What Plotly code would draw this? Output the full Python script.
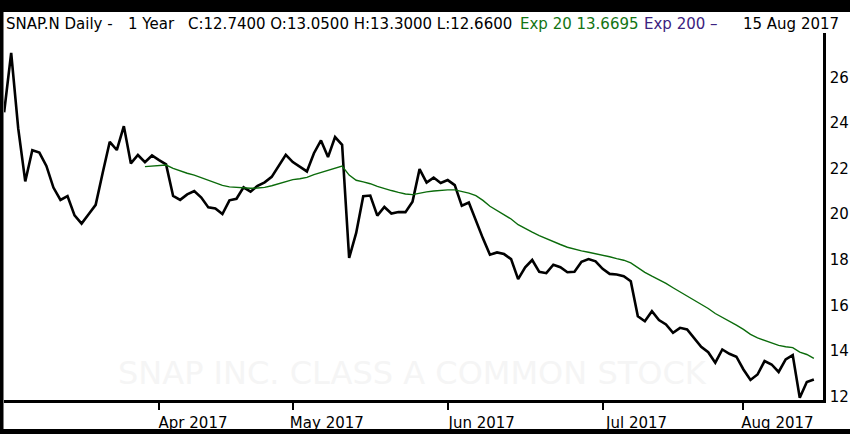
import pandas as pd
import plotly.graph_objects as go

# ---- data ----
holidays = ["2017-04-14", "2017-05-29", "2017-07-04"]
dates = [d.strftime("%Y-%m-%d") for d in pd.bdate_range("2017-03-02", "2017-08-15")
         if d.strftime("%Y-%m-%d") not in holidays]

close = [24.48, 27.09, 23.77, 21.44, 22.81, 22.71, 22.12, 21.17, 20.63, 20.80,
         19.95, 19.59, 20.00, 20.41, 21.82, 23.18, 22.82, 23.87, 22.23, 22.60,
         22.29, 22.58, 22.38, 22.19, 20.80, 20.63, 20.87, 21.02, 20.73, 20.30,
         20.25, 20.01, 20.61, 20.68, 21.18, 20.99, 21.25, 21.40, 21.64, 22.10,
         22.61, 22.29, 22.07, 21.88, 22.68, 23.24, 22.51, 23.39, 23.05, 18.08,
         19.18, 20.79, 20.82, 19.94, 20.32, 20.03, 20.10, 20.09, 20.55, 21.98,
         21.39, 21.61, 21.37, 21.50, 21.28, 20.37, 20.51, 19.71, 18.94, 18.22,
         18.32, 18.25, 18.03, 17.15, 17.67, 17.99, 17.47, 17.41, 17.78, 17.67,
         17.45, 17.47, 17.91, 18.03, 17.93, 17.60, 17.38, 17.35, 17.28, 17.06,
         15.52, 15.30, 15.74, 15.35, 15.16, 14.79, 15.01, 14.94, 14.57, 14.18,
         13.94, 13.48, 14.06, 13.87, 13.74, 13.18, 12.72, 12.96, 13.55, 13.40,
         13.07, 13.62, 13.81, 11.94, 12.63, 12.74]

ema20_start = 20
ema20 = [22.09, 22.12, 22.15, 22.16, 22.01, 21.90, 21.80, 21.72, 21.60, 21.49,
         21.37, 21.27, 21.20, 21.17, 21.15, 21.14, 21.15, 21.18, 21.25, 21.34,
         21.44, 21.52, 21.56, 21.62, 21.74, 21.84, 21.93, 22.02, 22.12, 21.72,
         21.49, 21.42, 21.34, 21.22, 21.12, 21.04, 20.96, 20.89, 20.86, 20.93,
         20.98, 21.02, 21.05, 21.07, 21.07, 21.00, 20.93, 20.82, 20.61, 20.35,
         20.16, 19.97, 19.79, 19.54, 19.36, 19.21, 19.06, 18.92, 18.79, 18.67,
         18.55, 18.46, 18.39, 18.33, 18.27, 18.20, 18.13, 18.05, 17.98, 17.86,
         17.64, 17.45, 17.28, 17.13, 16.96, 16.77, 16.59, 16.43, 16.25, 16.07,
         15.86, 15.64, 15.48, 15.30, 15.13, 14.94, 14.72, 14.57, 14.47, 14.36,
         14.24, 14.18, 14.14, 13.94, 13.84, 13.67]

x_tickvals = ["2017-04-03", "2017-05-01", "2017-06-01", "2017-07-03", "2017-08-01"]
x_ticktext = ["Apr 2017", "May 2017", "Jun 2017", "Jul 2017", "Aug 2017"]
y_tickvals = [12, 14, 16, 18, 20, 22, 24, 26]

# ---- figure ----
W, H = 850, 434
ML, MR, MT, MB = 4, 27, 33, 34
PW, PH = W - ML - MR, H - MT - MB
FONT = "DejaVu Sans"

def px_x(px):
    return (px - ML) / PW

def px_y(py):
    return (H - MB - py) / PH

fig = go.Figure()
fig.add_trace(go.Scatter(x=dates, y=close, mode="lines",
                         line=dict(color="black", width=2.6), hoverinfo="skip"))
fig.add_trace(go.Scatter(x=dates[ema20_start:], y=ema20, mode="lines",
                         line=dict(color="#0b6b0b", width=1.4), hoverinfo="skip"))

fig.update_layout(
    width=W, height=H,
    margin=dict(l=ML, r=MR, t=MT, b=MB, pad=0),
    paper_bgcolor="white", plot_bgcolor="white",
    showlegend=False,
    font=dict(family=FONT, size=15, color="black"),
    xaxis=dict(type="category", categoryorder="array", categoryarray=dates,
               range=[-0.02, 116.3], tickvals=x_tickvals, ticktext=x_ticktext,
               showgrid=False, zeroline=False, showline=True, linecolor="black",
               linewidth=2.5, ticks="outside", ticklen=7, tickwidth=2,
               tickcolor="black", ticklabelshift=34, ticklabelstandoff=0,
               tickfont=dict(family=FONT, size=15, color="black"),
               automargin=False, fixedrange=True),
    yaxis=dict(side="right", range=[11.84, 27.96], tickvals=y_tickvals,
               showgrid=False, zeroline=False, showline=True, linecolor="black",
               linewidth=2.7, ticks="", ticklabelstandoff=1,
               tickfont=dict(family=FONT, size=15, color="black"),
               automargin=False, fixedrange=True),
)

# watermark
fig.add_annotation(text="SNAP INC. CLASS A COMMON STOCK", xref="paper", yref="paper",
                   x=px_x(412), y=px_y(373), xanchor="center", yanchor="middle",
                   showarrow=False, font=dict(family=FONT, size=32, color="#f5f5f5"))

# header
header = [
    ("SNAP.N Daily -", 4, "black"),
    ("1 Year", 126, "black"),
    ("C:12.7400 O:13.0500 H:13.3000 L:12.6600", 186, "black"),
    ("Exp 20 13.6695", 518, "#137413"),
    ("Exp 200 –", 642, "#3c2280"),
    ("15 Aug 2017", 741, "black"),
]
for txt, xp, col in header:
    fig.add_annotation(text=txt, xref="paper", yref="paper", x=px_x(xp), y=px_y(24),
                       xanchor="left", yanchor="middle", showarrow=False,
                       font=dict(family=FONT, size=15, color=col))

# screenshot frame
frame = [
    (0, 0, W, 12),      # top band
    (0, 0, 3.5, H),     # left band
    (0, 429, W, H),     # bottom band
]
for x0, y0, x1, y1 in frame:
    fig.add_shape(type="rect", xref="paper", yref="paper",
                  x0=px_x(x0), x1=px_x(x1), y0=px_y(y1), y1=px_y(y0),
                  fillcolor="black", line=dict(width=0), layer="above")

fig.write_html("out.html", config={"displayModeBar": False, "staticPlot": True},
               post_script="document.body.style.margin='0';document.body.style.overflow='hidden';")
